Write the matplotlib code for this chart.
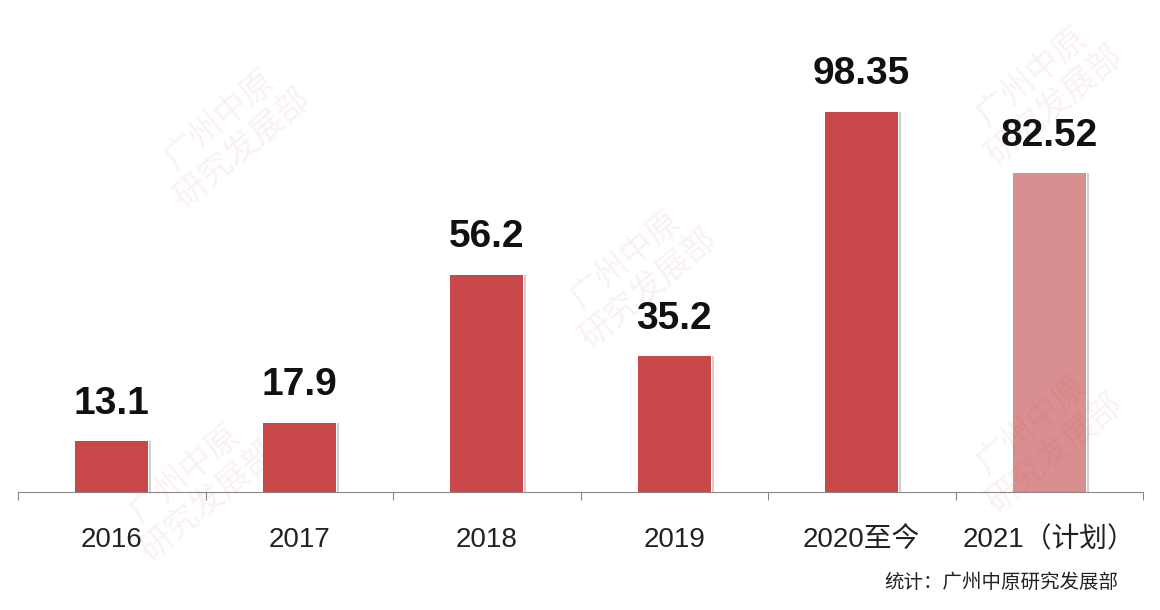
import matplotlib.pyplot as plt

plt.rcParams['font.family'] = ['Liberation Sans', 'Noto Sans CJK SC', 'DejaVu Sans']

categories = ["2016", "2017", "2018", "2019", "2020至今", "2021（计划）"]
values = [13.1, 17.9, 56.2, 35.2, 98.35, 82.52]
value_labels = ["13.1", "17.9", "56.2", "35.2", "98.35", "82.52"]
colors = ['#c8484a'] * 5 + ['#d98e8f']

fig = plt.figure(figsize=(11.6, 6.1), dpi=100)
ax = fig.add_axes([18 / 1160, 118 / 610, 1125 / 1160, 464 / 610])

x = list(range(len(categories)))
# faint shadow line on the right side of each bar
ax.bar([i + 0.205 for i in x], values, width=0.012, color='#d0d0d0', zorder=1)
bars = ax.bar(x, values, width=0.39, color=colors, zorder=2)

for b, lab in zip(bars, value_labels):
    ax.text(b.get_x() + b.get_width() / 2, b.get_height() + 5, lab,
            ha='center', va='bottom', fontsize=28, fontweight='bold', color='#111111')

ax.set_xlim(-0.5, 5.5)
ax.set_ylim(0, 120)
ax.set_yticks([])
ax.set_xticks([i + 0.5 for i in x[:-1]] + [-0.5, 5.5])
ax.tick_params(axis='x', length=6, color='#888888', labelbottom=False)
for i, c in enumerate(categories):
    ax.text(i, -9, c, ha='center', va='top', fontsize=20, color='#222222')
for s in ['top', 'right', 'left']:
    ax.spines[s].set_visible(False)
ax.spines['bottom'].set_color('#888888')

# watermarks
for (wx, wy) in [(0.2, 0.78), (0.55, 0.55), (0.9, 0.85), (0.9, 0.28), (0.17, 0.2)]:
    fig.text(wx, wy, "广州中原\n研究发展部", fontsize=24, color='#c8484a', alpha=0.08,
             rotation=40, ha='center', va='center')

fig.text(1118 / 1160, 1 - 583 / 610, "统计：广州中原研究发展部", ha='right', va='center',
         fontsize=14, color='#222222')

fig.savefig("out.png", dpi=100, facecolor='white')
